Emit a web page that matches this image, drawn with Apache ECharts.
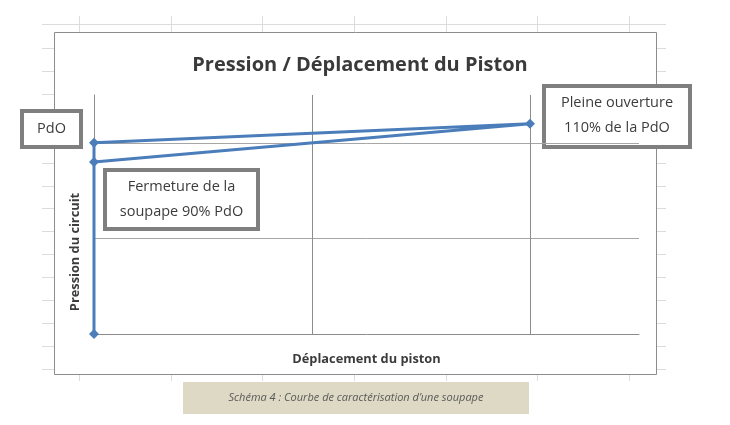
<!DOCTYPE html>
<html>
<head>
<meta charset="utf-8">
<script src="https://cdn.jsdelivr.net/npm/echarts@6/dist/echarts.min.js"></script>
<style>
  html, body { margin: 0; padding: 0; background: #fff; }
  #chart { width: 730px; height: 425px; }
</style>
</head>
<body>
<div id="chart"></div>
<script>
// déplacement du piston (x) et pression du circuit (y), PdO = 2
const deplacement = [0, 0, 2, 0];
const pression = [0, 2, 2.2, 1.8];
const titre = 'Pression / Déplacement du Piston';
const nomX = 'Déplacement du piston';
const nomY = 'Pression du circuit';
const notes = {
    pdo: ['PdO'],
    pleine: ['Pleine ouverture', '110% de la PdO'],
    fermeture: ['Fermeture de la', 'soupape 90% PdO']
};
const legende = 'Schéma 4 : Courbe de caractérisation d\u2019une soupape';

const police = '"Open Sans", sans-serif';
const bleu = '#4a7dba';

const chart = echarts.init(document.getElementById('chart'));

// petites lignes de la feuille Excel autour du graphique
const feuille = [];
const pale = { stroke: '#dcdcdc', lineWidth: 1 };
feuille.push({ type: 'line', z: -20, shape: { x1: 42, y1: 24.5, x2: 666, y2: 24.5 }, style: pale });
for (let k = 0; k < 7; k++) {
    const x = Math.round(79 + k * 91.67) + 0.5;
    feuille.push({ type: 'line', z: -20, shape: { x1: x, y1: 16, x2: x, y2: 32 }, style: pale });
    feuille.push({ type: 'line', z: -20, shape: { x1: x, y1: 374, x2: x, y2: 381 }, style: pale });
}
for (let k = 1; k <= 15; k++) {
    const y = Math.round(25 + k * 22.93) + 0.5;
    feuille.push({ type: 'line', z: -20, shape: { x1: 42, y1: y, x2: 54, y2: y }, style: pale });
    feuille.push({ type: 'line', z: -20, shape: { x1: 656, y1: y, x2: 666, y2: y }, style: pale });
}

function boite(x, y, w, h, lignes, cx, cy) {
    return {
        type: 'group',
        z: 100,
        children: [
            { type: 'rect', shape: { x: x, y: y, width: w, height: h },
              style: { fill: '#fff', stroke: '#7f7f7f', lineWidth: 4 } },
            { type: 'text', x: cx, y: cy,
              style: { text: lignes.join('\n'), font: '14.5px ' + police, fill: '#3c3c3c',
                       align: 'center', verticalAlign: 'middle', lineHeight: 25 } }
        ]
    };
}

const option = {
    backgroundColor: '#fff',
    animation: false,
    title: {
        text: titre,
        left: 355,
        top: 50,
        textAlign: 'center',
        textStyle: { fontFamily: police, fontWeight: 'bold', fontSize: 20, color: '#3a3a3a' }
    },
    grid: { left: 94, right: 91, top: 95, bottom: 91 },
    xAxis: {
        type: 'value',
        min: 0,
        max: 2.5,
        interval: 1,
        name: nomX,
        nameLocation: 'middle',
        nameGap: 19,
        nameTextStyle: { fontFamily: police, fontWeight: 'bold', fontSize: 12.8, color: '#3c3c3c' },
        axisLine: { show: true, lineStyle: { color: '#8c8c8c', width: 1 } },
        axisTick: { show: false },
        axisLabel: { show: false },
        splitLine: { show: true, showMinLine: false, showMaxLine: false, lineStyle: { color: '#8c8c8c', width: 1 } }
    },
    yAxis: {
        type: 'value',
        min: 0,
        max: 2.5,
        interval: 1,
        axisLine: { show: true, lineStyle: { color: '#8c8c8c', width: 1 } },
        axisTick: { show: false },
        axisLabel: { show: false },
        splitLine: { show: true, showMinLine: false, showMaxLine: false, lineStyle: { color: '#a6a6a6', width: 1 } }
    },
    series: [{
        type: 'line',
        data: deplacement.map((x, i) => [x, pression[i]]),
        symbol: 'diamond',
        symbolSize: 10,
        showAllSymbol: true,
        lineStyle: { color: bleu, width: 3 },
        itemStyle: { color: bleu },
        z: 5
    }],
    graphic: feuille.concat([
        { type: 'rect', z: -10, shape: { x: 54.5, y: 32.5, width: 602, height: 342 },
          style: { fill: '#fff', stroke: '#8c8c8c', lineWidth: 1 } },
        { type: 'text', x: 75, y: 252, rotation: Math.PI / 2, z: 10,
          style: { text: nomY, font: 'bold 12.8px ' + police, fill: '#3c3c3c',
                   align: 'center', verticalAlign: 'middle' } },
        boite(22, 111, 59, 36, notes.pdo, 51.5, 129),
        boite(544, 86, 146, 61, notes.pleine, 617, 115),
        boite(105, 170, 153, 59, notes.fermeture, 181.5, 199.5),
        { type: 'rect', z: 10, shape: { x: 183, y: 382, width: 346, height: 32 },
          style: { fill: '#ddd9c4' } },
        { type: 'text', x: 356, y: 398, z: 11,
          style: { text: legende, font: 'italic 11px ' + police, fill: '#595959',
                   align: 'center', verticalAlign: 'middle' } }
    ])
};

chart.setOption(option);
</script>
</body>
</html>
